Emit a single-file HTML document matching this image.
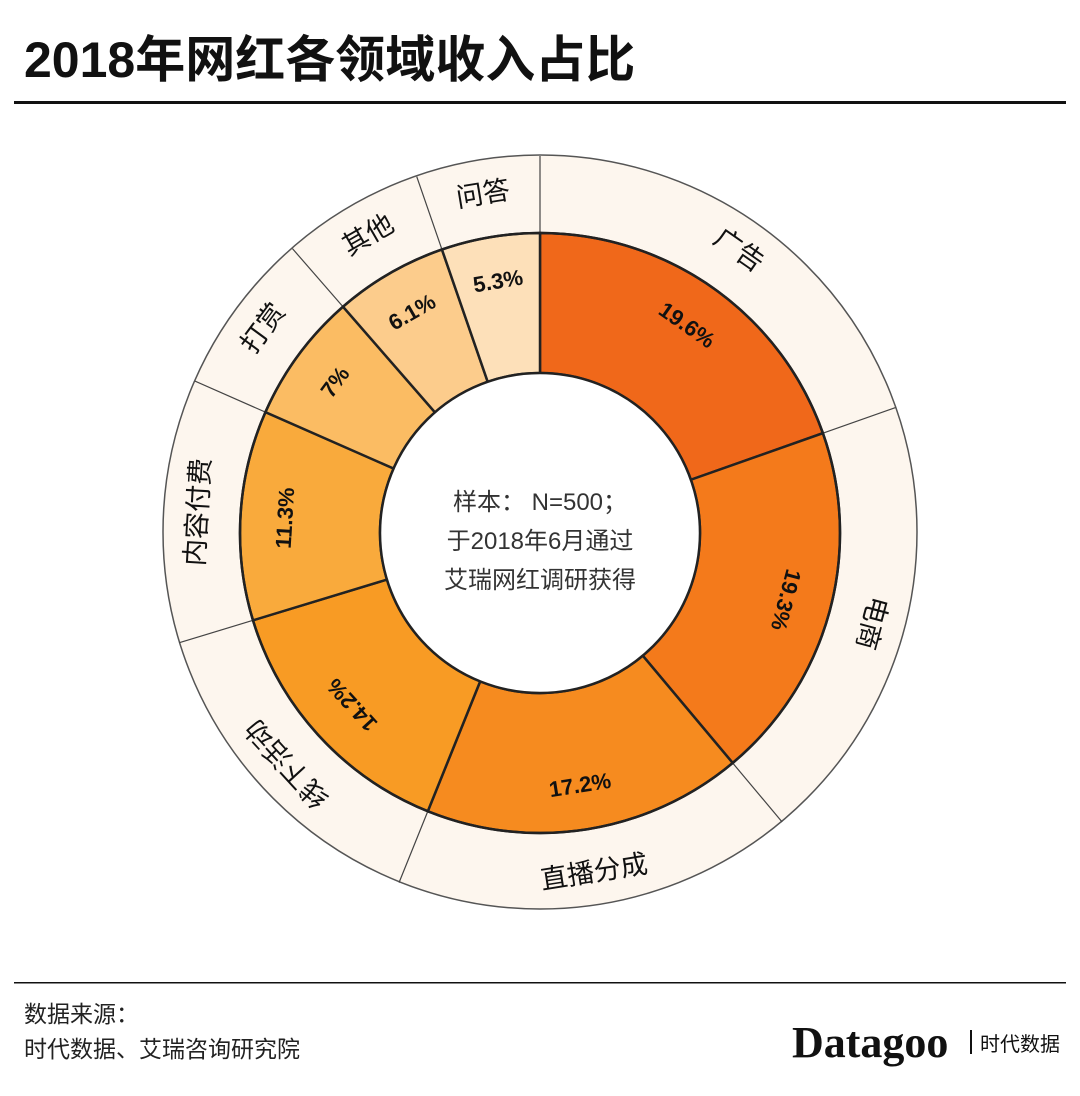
<!DOCTYPE html>
<html><head><meta charset="utf-8"><style>
body{margin:0;background:#fff;width:1080px;height:1091px;overflow:hidden;font-family:"Liberation Sans","Noto Sans CJK SC",sans-serif}
</style></head><body>
<svg id="s" width="1080" height="1091" viewBox="0 0 1080 1091" xmlns="http://www.w3.org/2000/svg" font-family="Liberation Sans, Noto Sans CJK SC, sans-serif">
<text x="24" y="77" font-size="50" font-weight="bold" fill="#111">2018年网红各领域收入占比</text>
<rect x="14" y="101" width="1052" height="3" fill="#111"/>
<circle cx="540" cy="532" r="377" fill="#fdf6ee" stroke="#555" stroke-width="1.5"/>
<g id="segs"></g>
<circle cx="540" cy="533" r="160" fill="#fff" stroke="#222" stroke-width="2.5"/>
<g font-size="24" fill="#333" text-anchor="middle">
<text x="540" y="510">样本： N=500；</text>
<text x="540" y="549">于2018年6月通过</text>
<text x="540" y="588">艾瑞网红调研获得</text>
</g>
<g font-size="22" font-weight="bold" fill="#111" text-anchor="middle" dominant-baseline="central">
<text transform="translate(687,325) rotate(35)">19.6%</text>
<text transform="translate(786,600) rotate(105)">19.3%</text>
<text transform="translate(580,785) rotate(-9)">17.2%</text>
<text transform="translate(352,705) rotate(227.5)">14.2%</text>
<text transform="translate(285,518) rotate(-86.6)">11.3%</text>
<text transform="translate(335,382) rotate(-53.6)">7%</text>
<text transform="translate(412,312) rotate(-30)">6.1%</text>
<text transform="translate(498,281) rotate(-9.5)">5.3%</text>
</g>
<g font-size="27" fill="#111" text-anchor="middle" dominant-baseline="central">
<text transform="translate(739,250) rotate(35)">广告</text>
<text transform="translate(872,623) rotate(105)">电商</text>
<text transform="translate(594,872) rotate(-9)">直播分成</text>
<text transform="translate(287,764) rotate(227.5)">线下活动</text>
<text transform="translate(198,512) rotate(-86.6)">内容付费</text>
<text transform="translate(263,328) rotate(-53.6)">打赏</text>
<text transform="translate(368,235) rotate(-30)">其他</text>
<text transform="translate(483,194) rotate(-9.5)">问答</text>
</g>
<rect x="14" y="982" width="1052" height="1.5" fill="#111"/>
<text x="24" y="1022" font-size="23" fill="#222">数据来源：</text>
<text x="24" y="1057" font-size="23" fill="#222">时代数据、艾瑞咨询研究院</text>
<text x="792" y="1057" font-size="44" font-weight="bold" fill="#111" font-family="Liberation Serif, serif">Datagoo</text>
<rect x="970" y="1030" width="2" height="24" fill="#111"/>
<text x="980" y="1051" font-size="20" fill="#111">时代数据</text>
</svg>
<script>
var v=[19.6,19.3,17.2,14.2,11.3,7,6.1,5.3];
var c=["#f0681a","#f47a1b","#f68b1f","#f89b24","#f9aa3c","#fbbc63","#fccc8c","#fde0b9"];
var cx=540,cy=533,R=300,r0=160,RO=377,a=0,h="";
function p(r,d){var t=d*Math.PI/180;return [(cx+r*Math.sin(t)).toFixed(2),(cy-r*Math.cos(t)).toFixed(2)];}
for(var i=0;i<v.length;i++){var b=a+v[i]*3.6;var l=(b-a)>180?1:0;
var A=p(R,a),B=p(R,b),C=p(r0,b),D=p(r0,a);
h+='<path d="M'+A+' A'+R+','+R+' 0 '+l+' 1 '+B+' L'+C+' A'+r0+','+r0+' 0 '+l+' 0 '+D+'Z" fill="'+c[i]+'" stroke="#222" stroke-width="2.5"/>';
var E=p(R,a),F=p(RO,a);h+='<line x1="'+E[0]+'" y1="'+E[1]+'" x2="'+F[0]+'" y2="'+F[1]+'" stroke="#444" stroke-width="1.2"/>';
a=b;}
h+='<circle cx="540" cy="533" r="300" fill="none" stroke="#222" stroke-width="2.5"/>';
document.getElementById("segs").innerHTML=h;
</script>
</body></html>
